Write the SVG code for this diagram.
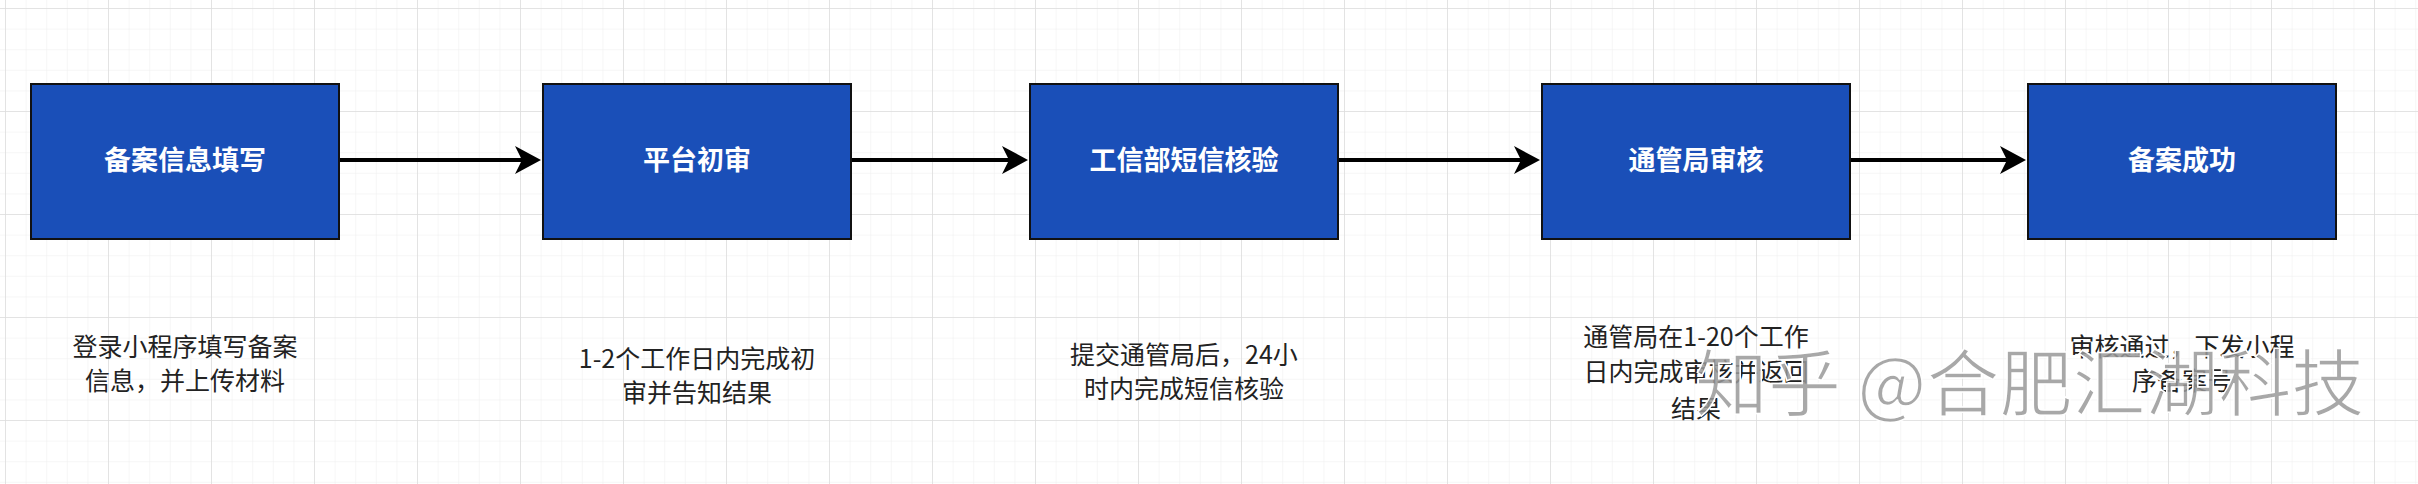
<svg xmlns="http://www.w3.org/2000/svg" width="2418" height="484" viewBox="0 0 2418 484">
<defs>
<pattern id="minor" width="20.6" height="20.6" patternUnits="userSpaceOnUse" x="6" y="9"><path d="M20.6 0V20.6H0" fill="none" stroke="#eeeeee" stroke-width="1"/></pattern>
<pattern id="major" width="103" height="103" patternUnits="userSpaceOnUse" x="6" y="9"><path d="M103 0V103H0" fill="none" stroke="#dddddd" stroke-width="1.5"/></pattern>
</defs>
<style>
.box{fill:#1a4fb8;stroke:#111;stroke-width:2}
.t{font-family:"Noto Sans CJK SC",sans-serif;font-size:27px;font-weight:bold;fill:#fff;text-anchor:middle}
.d{font-family:"Noto Sans CJK SC",sans-serif;font-size:25px;fill:#222;text-anchor:middle}
.c{stroke:#000;stroke-width:4;fill:none}
</style>
<rect width="2418" height="484" fill="#fff"/>
<rect width="2418" height="484" fill="url(#minor)"/>
<rect width="2418" height="484" fill="url(#major)"/>
<g id="connectors">
<path class="c" d="M339 160H525"/><path d="M515 146L541 160L515 174L522 160Z"/>
<path class="c" d="M851 160H1012"/><path d="M1002 146L1028 160L1002 174L1009 160Z"/>
<path class="c" d="M1338 160H1524"/><path d="M1514 146L1540 160L1514 174L1521 160Z"/>
<path class="c" d="M1850 160H2010"/><path d="M2000 146L2026 160L2000 174L2007 160Z"/>
</g>
<g id="n1"><rect class="box" x="31" y="84" width="308" height="155"/><text class="t" x="185" y="170">备案信息填写</text>
<text class="d" x="185" y="356">登录小程序填写备案</text><text class="d" x="185" y="390">信息，并上传材料</text></g>
<g id="n2"><rect class="box" x="543" y="84" width="308" height="155"/><text class="t" x="697" y="170">平台初审</text>
<text class="d" x="697" y="368">1-2个工作日内完成初</text><text class="d" x="697" y="402">审并告知结果</text></g>
<g id="n3"><rect class="box" x="1030" y="84" width="308" height="155"/><text class="t" x="1184" y="170">工信部短信核验</text>
<text class="d" x="1184" y="364">提交通管局后，24小</text><text class="d" x="1184" y="398">时内完成短信核验</text></g>
<g id="n4"><rect class="box" x="1542" y="84" width="308" height="155"/><text class="t" x="1696" y="170">通管局审核</text>
<text class="d" x="1696" y="346">通管局在1-20个工作</text><text class="d" x="1696" y="381">日内完成审核并返回</text><text class="d" x="1696" y="418">结果</text></g>
<g id="n5"><rect class="box" x="2028" y="84" width="308" height="155"/><text class="t" x="2182" y="170">备案成功</text>
<text class="d" x="2182" y="356">审核通过，下发小程</text><text class="d" x="2182" y="390">序备案号</text></g>
<text x="1695" y="410" font-family="Noto Sans CJK SC,sans-serif" font-size="73" fill="#999" fill-opacity="0.85" stroke="#fff" stroke-width="1.5">知乎 @合肥汇湖科技</text>
</svg>
